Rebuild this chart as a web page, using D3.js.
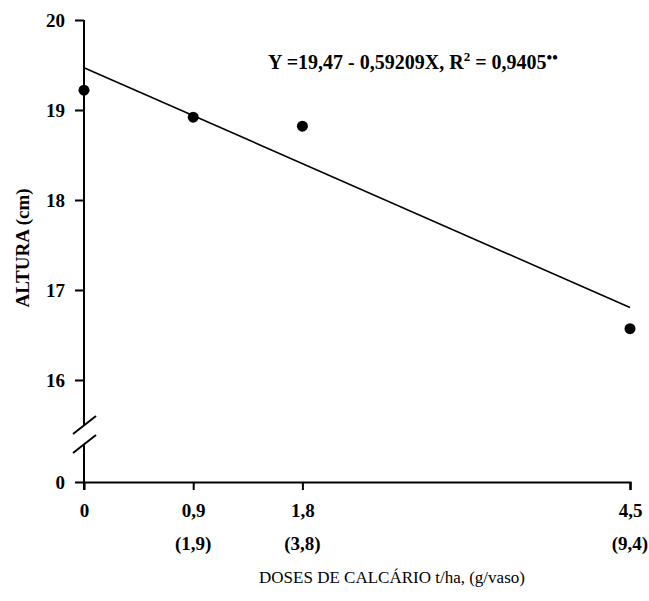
<!DOCTYPE html>
<html>
<head>
<meta charset="utf-8">
<script src="https://cdn.jsdelivr.net/npm/d3@7"></script>
<style>
  html, body { margin: 0; padding: 0; background: #fff; }
  svg { display: block; }
  text { font-family: "Liberation Serif", "DejaVu Serif", serif; fill: #000; }
</style>
</head>
<body>
<svg id="chart" width="649" height="601"></svg>
<script>
// Lime doses (t/ha) and the matching g/vaso values
const doses = [0, 0.9, 1.8, 4.5];
const doseLabels = ["0", "0,9", "1,8", "4,5"];
const potLabels = ["", "(1,9)", "(3,8)", "(9,4)"];

// Mean plant height (cm) at each dose
const heights = [19.22, 18.92, 18.82, 16.57];

// Fitted regression Y = a + bX
const intercept = 19.47;
const slope = -0.59209;

// Y axis ticks (the axis is broken between 0 and 16)
const yTicks = [0, 16, 17, 18, 19, 20];

const svg = d3.select("#chart");

const x = d3.scaleLinear().domain([0, 4.5]).range([84, 630]);
// Piecewise scale: 0 sits below the break, 16–20 is the working range
const y = d3.scaleLinear().domain([0, 16, 20]).range([482, 380, 20]);

const tickFont = "19px";

// Y axis with a break
const yAxis = svg.append("g")
  .attr("transform", `translate(${x(0)},0)`)
  .call(d3.axisLeft(y).tickValues(yTicks).tickFormat(d3.format("d")).tickSizeOuter(0).tickSize(9).tickPadding(10));
yAxis.select(".domain").remove();
yAxis.selectAll(".tick line").attr("stroke", "#000").attr("stroke-width", 2);
yAxis.selectAll(".tick text")
  .style("font-size", tickFont).style("font-weight", "bold")
  .style("font-family", "'Liberation Serif', serif");

const breakTop = 425, breakBottom = 444;
svg.append("line").attr("x1", x(0)).attr("x2", x(0))
  .attr("y1", y(20)).attr("y2", breakTop)
  .attr("stroke", "#000").attr("stroke-width", 2);
svg.append("line").attr("x1", x(0)).attr("x2", x(0))
  .attr("y1", breakBottom).attr("y2", y(0) + 8)
  .attr("stroke", "#000").attr("stroke-width", 2);
[breakTop, breakBottom].forEach(cy => {
  svg.append("line")
    .attr("x1", x(0) - 11).attr("y1", cy + 9)
    .attr("x2", x(0) + 12).attr("y2", cy - 9)
    .attr("stroke", "#000").attr("stroke-width", 2);
});

// X axis
const xAxis = svg.append("g")
  .attr("transform", `translate(0,${y(0)})`)
  .call(d3.axisBottom(x).tickValues(doses).tickFormat((d, i) => doseLabels[i])
        .tickSizeOuter(0).tickSize(8).tickPadding(14));
xAxis.select(".domain").attr("stroke", "#000").attr("stroke-width", 2.2);
xAxis.selectAll(".tick line").attr("stroke", "#000").attr("stroke-width", 2);
xAxis.selectAll(".tick text")
  .style("font-size", tickFont).style("font-weight", "bold")
  .style("font-family", "'Liberation Serif', serif");
xAxis.selectAll(".tick").filter(d => d === 0).select("line").remove();

// Second row of x labels (g/vaso)
svg.append("g").selectAll("text")
  .data(doses)
  .join("text")
  .attr("x", d => x(d))
  .attr("y", 550)
  .attr("text-anchor", "middle")
  .style("font-size", tickFont).style("font-weight", "bold")
  .text((d, i) => potLabels[i]);

// Regression line
const fit = d3.line().x(d => x(d)).y(d => y(intercept + slope * d));
svg.append("path")
  .datum([0, 4.5])
  .attr("d", fit)
  .attr("fill", "none")
  .attr("stroke", "#000")
  .attr("stroke-width", 1.6);

// Observed means
svg.append("g").selectAll("circle")
  .data(doses)
  .join("circle")
  .attr("cx", d => x(d))
  .attr("cy", (d, i) => y(heights[i]))
  .attr("r", 5.5)
  .attr("fill", "#000");

// Equation
const eq = svg.append("text")
  .attr("x", 268).attr("y", 69)
  .style("font-size", "20px").style("font-weight", "bold");
eq.append("tspan").text("Y =19,47 - 0,59209X, R");
eq.append("tspan").attr("dy", -8).style("font-size", "13px").text("2");
eq.append("tspan").attr("dy", 8).text(" = 0,9405");
eq.append("tspan").attr("dy", -6).style("font-size", "16px").text("\u2022\u2022");

// Axis titles
svg.append("text")
  .attr("transform", "translate(29,248) rotate(-90)")
  .attr("text-anchor", "middle")
  .style("font-size", "19px").style("font-weight", "bold")
  .text("ALTURA (cm)");

svg.append("text")
  .attr("x", 392).attr("y", 583)
  .attr("text-anchor", "middle")
  .style("font-size", "17px")
  .text("DOSES DE CALCÁRIO t/ha, (g/vaso)");
</script>
</body>
</html>
